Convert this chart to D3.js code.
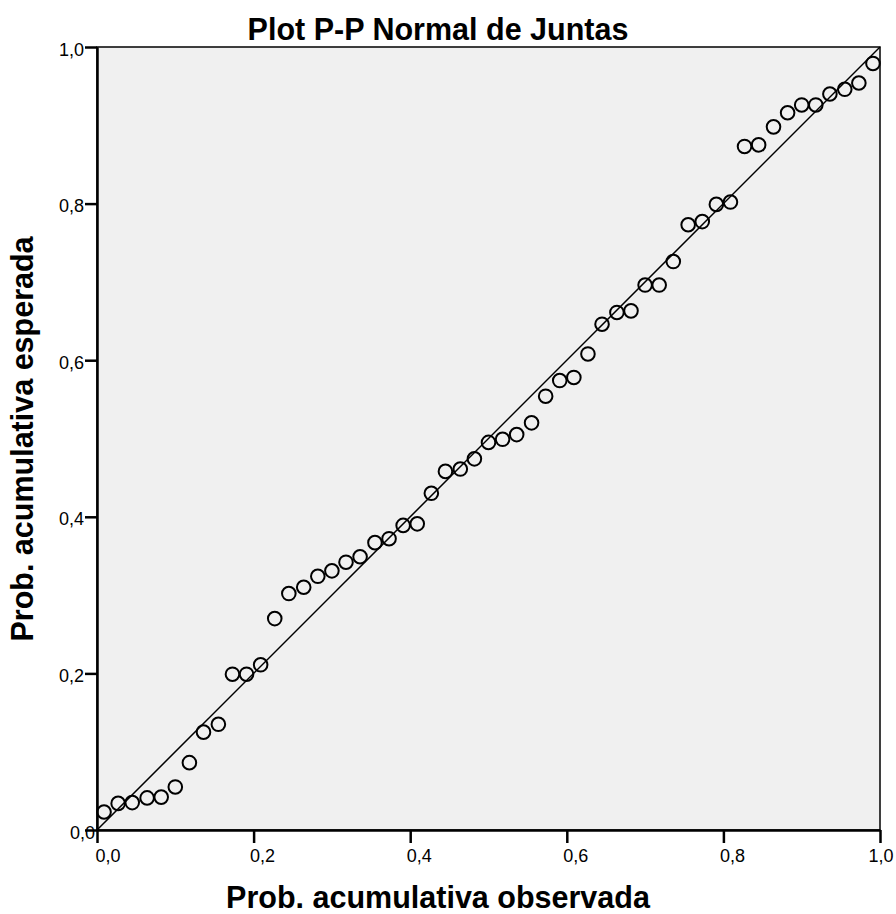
<!DOCTYPE html>
<html><head><meta charset="utf-8">
<script src="https://cdn.jsdelivr.net/npm/d3@7/dist/d3.min.js"></script>
<style>body{margin:0;background:#fff}svg{display:block}</style>
</head><body>
<svg id="chart" width="896" height="914"></svg>
<script>
const observed = [0.009,0.027,0.045,0.064,0.082,0.100,0.118,0.136,0.155,0.173,0.191,0.209,
  0.227,0.245,0.264,0.282,0.300,0.318,0.336,0.355,0.373,0.391,0.409,0.427,0.445,0.464,
  0.482,0.500,0.518,0.536,0.555,0.573,0.591,0.609,0.627,0.645,0.664,0.682,0.700,0.718,
  0.736,0.755,0.773,0.791,0.809,0.827,0.845,0.864,0.882,0.900,0.918,0.936,0.955,0.973,0.991];
const expected = [0.023,0.034,0.035,0.041,0.042,0.055,0.086,0.125,0.135,0.199,0.199,0.211,
  0.270,0.302,0.310,0.324,0.331,0.342,0.349,0.367,0.372,0.389,0.391,0.430,0.458,0.461,
  0.474,0.495,0.499,0.505,0.520,0.554,0.574,0.578,0.608,0.646,0.661,0.663,0.696,0.696,
  0.726,0.773,0.777,0.799,0.802,0.873,0.875,0.898,0.916,0.926,0.926,0.940,0.946,0.954,0.979];
const tickValues = [0, 0.2, 0.4, 0.6, 0.8, 1.0];
const tickLabels = ["0,0", "0,2", "0,4", "0,6", "0,8", "1,0"];
const titleText = "Plot P-P Normal de Juntas";
const xTitleText = "Prob. acumulativa observada";
const yTitleText = "Prob. acumulativa esperada";

const W = 896, H = 914;
const m = {l: 97, r: 16, t: 47, b: 84};
const svg = d3.select("#chart");
const x = d3.scaleLinear().domain([0, 1]).range([m.l, W - m.r]);
const y = d3.scaleLinear().domain([0, 1]).range([H - m.b, m.t]);
const font = "'Liberation Sans', Arial, sans-serif";

svg.append("rect")
  .attr("x", x(0)).attr("y", y(1))
  .attr("width", x(1) - x(0)).attr("height", y(0) - y(1))
  .attr("fill", "#f0f0f0").attr("stroke", "#000").attr("stroke-width", 1.5);

svg.append("line")
  .attr("x1", x(0)).attr("y1", y(0)).attr("x2", x(1)).attr("y2", y(1))
  .attr("stroke", "#000").attr("stroke-width", 1.5);

svg.append("g").selectAll("circle").data(observed).join("circle")
  .attr("cx", d => x(d)).attr("cy", (d, i) => y(expected[i]))
  .attr("r", 6.8).attr("fill", "none").attr("stroke", "#000").attr("stroke-width", 2);

const gx = svg.append("g").attr("transform", `translate(0,${y(0)})`)
  .call(d3.axisBottom(x).tickValues(tickValues).tickFormat((d, i) => tickLabels[i])
    .tickSize(13).tickSizeOuter(0).tickPadding(6));
gx.select(".domain").attr("stroke-width", 2.5);
gx.selectAll(".tick line").attr("stroke-width", 2.5);
gx.selectAll(".tick text").attr("font-family", font).attr("font-size", 18).attr("fill", "#000")
  .attr("text-anchor", (d, i) => i === tickValues.length - 1 ? "end" : "start")
  .attr("dx", (d, i) => i === 0 ? -2 : (i === tickValues.length - 1 ? 13 : -4));

const gy = svg.append("g").attr("transform", `translate(${x(0)},0)`)
  .call(d3.axisLeft(y).tickValues(tickValues).tickFormat((d, i) => tickLabels[i])
    .tickSize(12).tickSizeOuter(0).tickPadding(1));
gy.select(".domain").attr("stroke-width", 2.5);
gy.selectAll(".tick line").attr("stroke-width", 2.5);
gy.selectAll(".tick text").attr("font-family", font).attr("font-size", 18).attr("fill", "#000")
  .attr("dy", "0.45em")
  .attr("dx", (d, i) => i === 0 ? 11 : 0);

svg.append("text").attr("x", 438).attr("y", 40).attr("text-anchor", "middle")
  .attr("font-family", font).attr("font-weight", "bold").attr("font-size", 30.5).text(titleText);
svg.append("text").attr("x", 438).attr("y", 908).attr("text-anchor", "middle")
  .attr("font-family", font).attr("font-weight", "bold").attr("font-size", 30.5).text(xTitleText);
svg.append("text").attr("transform", "translate(33,439) rotate(-90)").attr("text-anchor", "middle")
  .attr("font-family", font).attr("font-weight", "bold").attr("font-size", 30.5).text(yTitleText);
</script>
</body></html>
